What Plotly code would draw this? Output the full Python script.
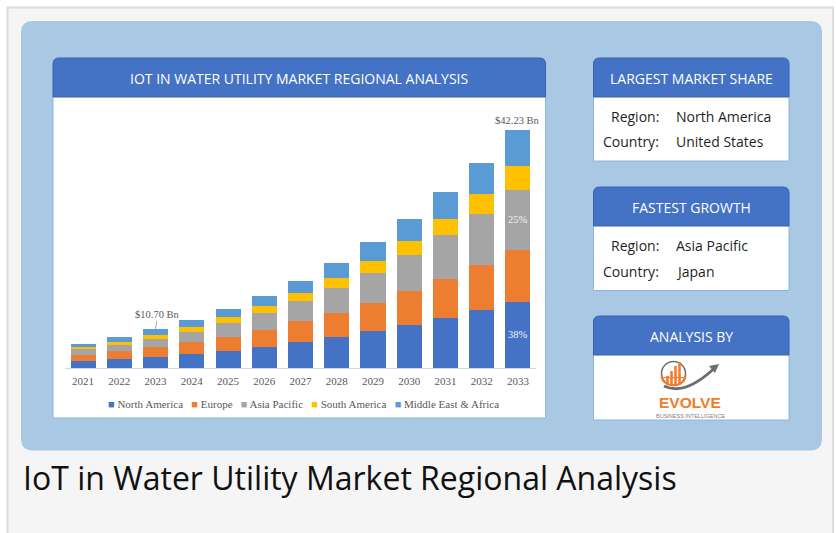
import plotly.graph_objects as go

W, H = 836, 533

years = ["2021", "2022", "2023", "2024", "2025", "2026", "2027",
         "2028", "2029", "2030", "2031", "2032", "2033"]
north_america = [1.30, 1.65, 2.01, 2.54, 3.07, 3.78, 4.62, 5.45, 6.52, 7.64, 8.88, 10.25, 11.78]
europe        = [1.07, 1.30, 1.72, 2.01, 2.49, 3.02, 3.68, 4.39, 5.10, 5.99, 6.98, 8.12, 9.24]
asia_pacific  = [1.01, 1.19, 1.42, 1.90, 2.36, 2.97, 3.55, 4.39, 5.33, 6.40, 7.69, 9.06, 10.66]
south_america = [0.41, 0.53, 0.76, 0.84, 1.07, 1.19, 1.47, 1.78, 2.13, 2.61, 2.97, 3.55, 4.14]
mea           = [0.53, 0.84, 1.01, 1.30, 1.47, 1.83, 2.19, 2.66, 3.25, 3.91, 4.67, 5.45, 6.40]

series_names = ["North America", "Europe", "Asia Pacific", "South America", "Middle East & Africa"]
series_vals = [north_america, europe, asia_pacific, south_america, mea]
colors = ["#4472C4", "#ED7D31", "#A5A5A5", "#FFC000", "#5B9BD5"]

value_labels = {"2023": "$10.70 Bn", "2033": "$42.23 Bn"}
share_labels = {"North America": "38%", "Asia Pacific": "25%"}

SERIF = "Liberation Serif"
SANS = "Open Sans"

xpos = list(range(len(years)))


def X(p):
    return p / W


def Y(p):
    return 1 - p / H


def rrect(x0, y0, x1, y1, r, top_only=False):
    rx, ry = r, r
    if top_only:
        path = (f"M{X(x0)},{Y(y1)} L{X(x0)},{Y(y0 + ry)} Q{X(x0)},{Y(y0)} {X(x0 + rx)},{Y(y0)} "
                f"L{X(x1 - rx)},{Y(y0)} Q{X(x1)},{Y(y0)} {X(x1)},{Y(y0 + ry)} L{X(x1)},{Y(y1)} Z")
    else:
        path = (f"M{X(x0)},{Y(y1 - ry)} L{X(x0)},{Y(y0 + ry)} Q{X(x0)},{Y(y0)} {X(x0 + rx)},{Y(y0)} "
                f"L{X(x1 - rx)},{Y(y0)} Q{X(x1)},{Y(y0)} {X(x1)},{Y(y0 + ry)} "
                f"L{X(x1)},{Y(y1 - ry)} Q{X(x1)},{Y(y1)} {X(x1 - rx)},{Y(y1)} "
                f"L{X(x0 + rx)},{Y(y1)} Q{X(x0)},{Y(y1)} {X(x0)},{Y(y1 - ry)} Z")
    return path


fig = go.Figure()
for name, vals, col in zip(series_names, series_vals, colors):
    fig.add_trace(go.Bar(x=xpos, y=vals, name=name, marker=dict(color=col, line=dict(width=0)),
                         showlegend=False, customdata=years, hovertemplate="%{customdata}: %{y}<extra>" + name + "</extra>"))

totals = [sum(v) for v in zip(*series_vals)]

shapes = []
shapes.append(dict(type="rect", xref="paper", yref="paper", x0=X(7.5), x1=X(833), y0=Y(7.5), y1=Y(540),
                   fillcolor="#F5F5F5", line=dict(color="#DCDCDC", width=2), layer="below"))
shapes.append(dict(type="path", xref="paper", yref="paper", path=rrect(21, 21, 822, 450.5, 12),
                   fillcolor="#A8C8E4", line=dict(width=0), layer="below"))
shapes.append(dict(type="rect", xref="paper", yref="paper", x0=X(53), x1=X(545.5), y0=Y(96), y1=Y(418),
                   fillcolor="#FFFFFF", line=dict(color="#8DB4E2", width=1), layer="below"))
shapes.append(dict(type="path", xref="paper", yref="paper", path=rrect(53, 58, 545.5, 97, 6, top_only=True),
                   fillcolor="#4472C4", line=dict(color="#3A62AC", width=1), layer="below"))
for top, hb, bot in [(58, 97, 161), (187, 226, 290.5), (316, 355, 420)]:
    shapes.append(dict(type="rect", xref="paper", yref="paper", x0=X(593.5), x1=X(789), y0=Y(hb - 1), y1=Y(bot),
                       fillcolor="#FFFFFF", line=dict(color="#8DB4E2", width=1), layer="below"))
    shapes.append(dict(type="path", xref="paper", yref="paper", path=rrect(593.5, top, 789, hb, 6, top_only=True),
                       fillcolor="#4472C4", line=dict(color="#3A62AC", width=1), layer="below"))

ORANGE = "#EE7D2E"
GREY = "#6E6E6E"
cx, cy, cr = 673.5, 373.5, 12
shapes.append(dict(type="circle", xref="paper", yref="paper", x0=X(cx - cr), x1=X(cx + cr), y0=Y(cy - cr), y1=Y(cy + cr),
                   line=dict(color=GREY, width=1.5), layer="above"))
shapes.append(dict(type="path", xref="paper", yref="paper",
                   path=f"M{X(cx - cr)},{Y(cy + 2)} C{X(cx - cr)},{Y(cy + cr + 3)} {X(cx + cr)},{Y(cy + cr + 3)} {X(cx + cr)},{Y(cy + 2)}",
                   line=dict(color=ORANGE, width=1.8), layer="above"))
shapes.append(dict(type="line", xref="paper", yref="paper", x0=X(cx - cr), x1=X(cx + cr), y0=Y(cy + 4), y1=Y(cy + 4),
                   line=dict(color=ORANGE, width=1.2), layer="above"))
for bx, bt in [(667.5, 376), (671.5, 371), (675.5, 366), (679.5, 362)]:
    shapes.append(dict(type="rect", xref="paper", yref="paper", x0=X(bx - 1.3), x1=X(bx + 1.3), y0=Y(bt), y1=Y(385),
                       fillcolor=ORANGE, line=dict(width=0), layer="above"))
shapes.append(dict(type="path", xref="paper", yref="paper",
                   path=f"M{X(664)},{Y(386)} Q{X(684)},{Y(396)} {X(713)},{Y(369.5)}",
                   line=dict(color=GREY, width=3), layer="above"))
shapes.append(dict(type="path", xref="paper", yref="paper",
                   path=f"M{X(719)},{Y(364)} L{X(709)},{Y(366)} L{X(715)},{Y(373)} Z",
                   fillcolor=GREY, line=dict(width=0), layer="above"))

annotations = []


def txt(x, y, text, size, color, family=SANS, xanchor="center", **kw):
    annotations.append(dict(xref="paper", yref="paper", x=X(x), y=Y(y), text=text, showarrow=False,
                            xanchor=xanchor, yanchor="middle", font=dict(size=size, color=color, family=family), **kw))


txt(299, 78, "IOT IN WATER UTILITY MARKET REGIONAL ANALYSIS", 14, "#FFFFFF")
txt(691, 79, "LARGEST MARKET SHARE", 14, "#FFFFFF")
txt(691, 207, "FASTEST GROWTH", 14, "#FFFFFF")
txt(691, 336.5, "ANALYSIS BY", 14, "#FFFFFF")
for (ry, key, val) in [(116.5, "Region:", "North America"), (141.5, "Country:", "United States"),
                       (245.5, "Region:", "Asia Pacific"), (271.5, "Country:", "Japan")]:
    txt(661, ry, key, 14, "#1F1F1F", xanchor="right")
    txt(674, ry, val, 14, "#1F1F1F", xanchor="left")
txt(690, 402, "<b>EVOLVE</b>", 15.5, ORANGE, family="Liberation Sans")
txt(690, 415.5, "BUSINESS INTELLIGENCE", 5.5, "#7F7F7F", family="Liberation Sans")
txt(21, 477, "IoT in Water Utility Market Regional Analysis", 32, "#111111", xanchor="left")

legend_parts = [f'<span style="color:{c}">■</span> {n}' for n, c in zip(series_names, colors)]
txt(303, 404, "&nbsp;&nbsp;&nbsp;".join(legend_parts), 11, "#595959", family=SERIF)

for yr, lab in value_labels.items():
    i = years.index(yr)
    if yr == "2023":
        annotations.append(dict(xref="x", yref="y", x=xpos[i], y=totals[i], text=lab, showarrow=True,
                                arrowhead=0, arrowwidth=1, arrowcolor="#A6A6A6", ax=2, ay=-15,
                                font=dict(size=10.5, color="#595959", family=SERIF)))
    else:
        annotations.append(dict(xref="x", yref="y", x=xpos[i], y=totals[i], text=lab, showarrow=False,
                                yanchor="bottom", yshift=2, font=dict(size=10.5, color="#595959", family=SERIF)))

last = len(years) - 1
cum = 0
for name, vals in zip(series_names, series_vals):
    if name in share_labels:
        annotations.append(dict(xref="x", yref="y", x=xpos[last], y=cum + vals[last] / 2, text=share_labels[name],
                                showarrow=False, font=dict(size=10.5, color="#F2F2F2", family=SERIF)))
    cum += vals[last]

fig.update_layout(
    width=W, height=H, autosize=False,
    margin=dict(l=0, r=0, t=0, b=0, pad=0, autoexpand=False),
    paper_bgcolor="#FFFFFF", plot_bgcolor="rgba(0,0,0,0)",
    barmode="stack", bargap=0.31,
    shapes=shapes, annotations=annotations,
    xaxis=dict(type="linear", range=[-0.5, len(years) - 0.5], domain=[X(64.9), X(536.1)],
               tickmode="array", tickvals=xpos, ticktext=years,
               showline=True, linecolor="#D9D9D9", linewidth=1, zeroline=False,
               ticks="", showgrid=False, tickfont=dict(family=SERIF, size=11, color="#595959"),
               ticklabelstandoff=3, automargin=False, fixedrange=True),
    yaxis=dict(range=[0, 45], domain=[Y(368), Y(114.7)], visible=False, showgrid=False,
               automargin=False, fixedrange=True),
    showlegend=False,
)

fig.write_html("out.html", config={"displayModeBar": False, "responsive": False},
               post_script="document.body.style.margin='0';document.body.style.overflow='hidden';")
